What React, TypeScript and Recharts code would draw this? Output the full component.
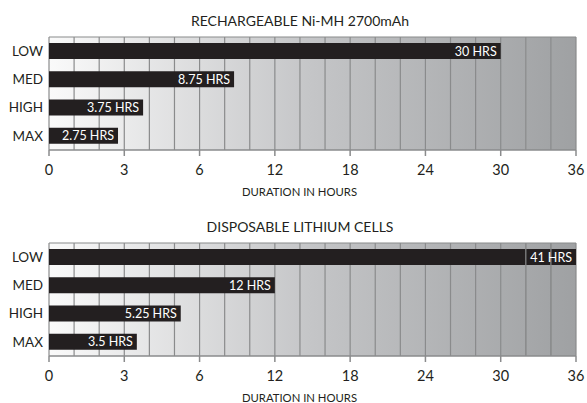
import React from 'react';
import { BarChart, Bar, XAxis, YAxis, CartesianGrid, LabelList, ReferenceLine, Label } from 'recharts';

// runtime levels, top to bottom
const levels = ['LOW', 'MED', 'HIGH', 'MAX'];
const nimhHours = [30, 8.75, 3.75, 2.75];
const lithiumHours = [41, 12, 5.25, 3.5];

// axis is stretched: 1 h per stripe up to 6 h, then 2 h per stripe
const tickHours = [0, 3, 6, 12, 18, 24, 30, 36];
const gridHours = [0, 1, 2, 3, 4, 5, 6, 8, 10, 12, 14, 16, 18, 20, 22, 24, 26, 28, 30, 32, 34, 36];
// the lithium chart has two stripe lines drawn on top of its LOW bar
const overlayHours = [32, 34];

const MAX_HOURS = 36;
const INK = '#231f20';
const GRID = '#8a8b8c';

const toPos = (h: number) => {
  const c = Math.min(h, MAX_HOURS);
  return c <= 6 ? c : 6 + (c - 6) / 2;
};
const maxPos = toPos(MAX_HOURS);
const tickPos = tickHours.map(toPos);

const BarLabel = (props: any) => {
  const { x, y, width, height, value } = props;
  return (
    <text
      x={x + width - 4}
      y={y + height / 2}
      textAnchor="end"
      dominantBaseline="central"
      fill="#ffffff"
      fontSize={12.5}
    >
      {value}
    </text>
  );
};

function Panel({ id, title, hours, overlay }: { id: string; title: string; hours: number[]; overlay: number[] }) {
  const data = levels.map((level, i) => ({
    level,
    pos: toPos(hours[i]),
    label: `${hours[i]} HRS`,
  }));

  return (
    <BarChart
      width={587}
      height={206}
      data={data}
      layout="vertical"
      margin={{ top: 37, right: 11, bottom: 0, left: 0 }}
      barSize={16}
    >
      <defs>
        <linearGradient id={`bg-${id}`} x1="0" y1="0" x2="1" y2="0">
          <stop offset="0%" stopColor="#fafafa" />
          <stop offset="50%" stopColor="#c4c5c7" />
          <stop offset="100%" stopColor="#9fa1a3" />
        </linearGradient>
      </defs>
      <CartesianGrid
        fill={`url(#bg-${id})`}
        fillOpacity={1}
        stroke={GRID}
        strokeWidth={1.2}
        verticalCoordinatesGenerator={({ offset }: any) =>
          gridHours.map((h) => offset.left + (toPos(h) * offset.width) / maxPos)
        }
        horizontalCoordinatesGenerator={({ offset }: any) => [offset.top]}
      />
      <XAxis
        type="number"
        dataKey="pos"
        domain={[0, maxPos]}
        ticks={tickPos}
        tickFormatter={(v: number) => String(tickHours[tickPos.indexOf(v)])}
        height={56}
        stroke={GRID}
        strokeWidth={1.5}
        tickSize={6}
        tickMargin={9}
        tick={{ fill: INK, fontSize: 14.5 }}
      >
        <Label value="DURATION IN HOURS" position="insideBottom" offset={10} dx={-13} fill={INK} fontSize={11.3} />
      </XAxis>
      <YAxis
        type="category"
        dataKey="level"
        width={49}
        axisLine={false}
        tickLine={false}
        tickSize={0}
        tickMargin={6}
        tick={{ fill: INK, fontSize: 13.5 }}
      />
      <Bar dataKey="pos" fill={INK} isAnimationActive={false}>
        <LabelList dataKey="label" content={BarLabel} />
      </Bar>
      {overlay.map((h) => (
        <ReferenceLine key={h} x={toPos(h)} stroke={GRID} strokeWidth={1.2} />
      ))}
      <text x={300} y={26} textAnchor="middle" fill={INK} fontSize={14}>
        {title}
      </text>
    </BarChart>
  );
}

export default function App() {
  return (
    <div style={{ position: 'absolute', top: 0, left: 0, width: 587, height: 403, background: '#fff', fontFamily: 'Lato, sans-serif' }}>
      <Panel id="nimh" title="RECHARGEABLE Ni-MH 2700mAh" hours={nimhHours} overlay={[]} />
      <Panel id="lith" title="DISPOSABLE LITHIUM CELLS" hours={lithiumHours} overlay={overlayHours} />
    </div>
  );
}
